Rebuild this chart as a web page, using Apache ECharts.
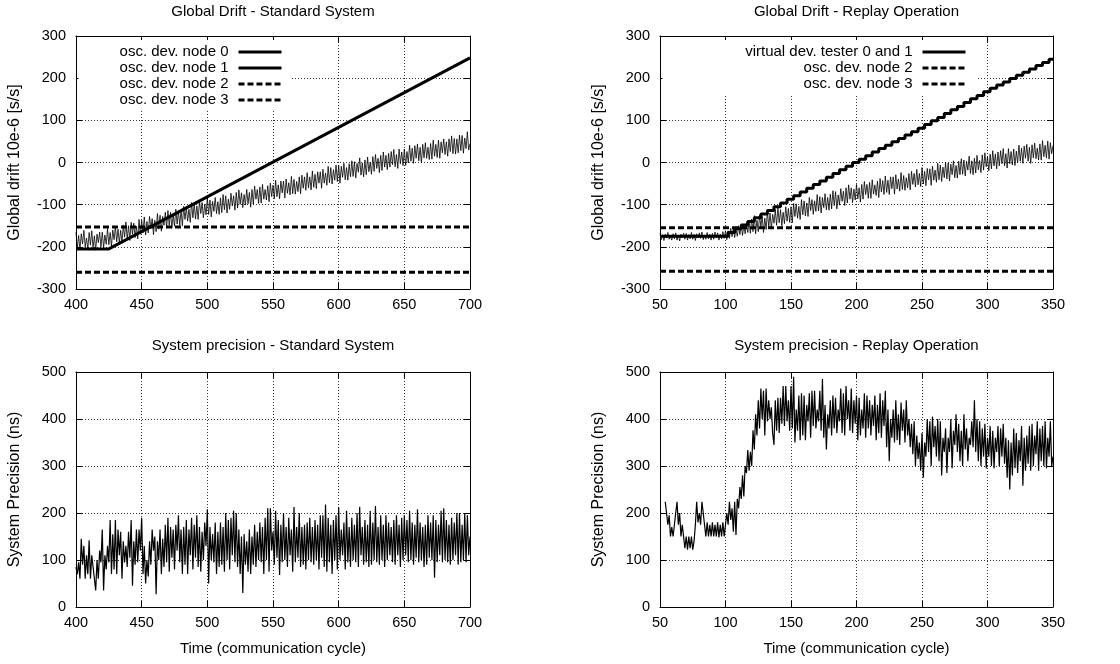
<!DOCTYPE html>
<html><head><meta charset="utf-8">
<script src="https://cdn.jsdelivr.net/npm/echarts@6/dist/echarts.min.js"></script>
<style>html,body{margin:0;padding:0;background:#fff}#c{width:1120px;height:664px}</style>
</head><body><div id="c"></div>
<script>
const FONT = '"Liberation Sans", Arial, Helvetica, sans-serif';

// ---------- Titles / labels ----------
const titles = ['Global Drift - Standard System', 'Global Drift - Replay Operation',
                'System precision - Standard System', 'System precision - Replay Operation'];
const driftYName = 'Global drift 10e-6 [s/s]';
const precYName = 'System Precision (ns)';
const timeXName = 'Time (communication cycle)';

// ---------- Standard system: global drift ----------
const stdNode0X = [400, 425, 700];
const stdNode0Y = [-205, -205, 248];
const stdNode1Start = 400;
const stdNode1 = [
 -165,-203,-173,-207,-169,-193,-161,-200,-179,-205,
 -166,-196,-162,-203,-174,-208,-170,-190,-165,-200,
 -165,-202,-172,-194,-157,-195,-166,-199,-160,-183,
 -152,-188,-158,-190,-161,-192,-148,-177,-141,-182,
 -150,-185,-142,-170,-144,-178,-151,-181,-135,-170,
 -137,-167,-129,-172,-140,-167,-128,-156,-133,-171,
 -137,-164,-121,-158,-125,-163,-128,-149,-118,-155,
 -114,-149,-118,-156,-124,-151,-111,-146,-116,-149,
 -112,-150,-104,-135,-105,-139,-111,-142,-95,-131,
 -98,-134,-103,-135,-90,-121,-95,-131,-99,-124,
 -84,-123,-89,-129,-92,-116,-83,-121,-93,-123,
 -84,-119,-76,-112,-79,-120,-87,-111,-73,-103,
 -79,-113,-71,-108,-65,-99,-72,-107,-76,-101,
 -64,-98,-71,-106,-64,-99,-56,-87,-64,-97,
 -58,-96,-52,-87,-64,-89,-55,-93,-49,-81,
 -54,-86,-42,-81,-53,-86,-44,-72,-44,-84,
 -39,-73,-48,-77,-33,-74,-40,-75,-45,-69,
 -34,-74,-30,-61,-34,-66,-24,-60,-34,-65,
 -20,-59,-28,-62,-22,-49,-22,-61,-16,-49,
 -25,-54,-9,-48,-12,-51,-17,-42,-6,-45,
 -7,-49,-9,-35,-2,-41,-12,-42,-3,-34,
 4,-33,2,-37,-2,-23,11,-30,-1,-34,
 6,-29,13,-22,1,-28,14,-21,19,-14,
 10,-24,17,-19,25,-11,17,-17,22,-11,
 26,-5,31,-10,19,-14,32,-3,25,-7,
 32,-7,26,-1,41,3,34,-2,40,10,
 44,4,36,-1,43,11,47,10,36,7,
 45,8,53,15,43,12,53,10,49,23,
 56,19,49,15,56,26,63,21,57,20,
 56,23,65,28,64,22,58,33,73,30,
 45];
const stdXRange = [400, 700];
const stdNode2Level = -153;
const stdNode3Level = -260;

// ---------- Replay operation: global drift ----------
const repStairX = [50,102,107,112,117,122,127,132,137,142,147,152,157,162,167,172,177,182,187,192,197,
  202,207,212,217,222,227,232,237,242,247,252,257,262,267,272,277,282,287,292,297,
  302,307,312,317,322,327,332,337,342,347,350];
const repStairY = [-175,-166,-157,-148,-140,-131,-122,-114,-105,-96,-87,-79,-70,-61,-52,-44,-35,-26,-17,-9,0,
  8,16,25,33,41,49,57,65,73,81,90,99,107,116,125,133,142,151,159,168,
  176,184,191,199,207,214,222,230,237,245,245];
const repMeasStart = 50;
const repMeas = [
 -168,-183,-171,-185,-170,-179,-166,-182,-174,-184,
 -169,-181,-167,-184,-172,-186,-170,-178,-168,-182,
 -168,-184,-171,-181,-166,-182,-170,-185,-169,-179,
 -167,-180,-165,-183,-172,-182,-166,-181,-170,-184,
 -168,-182,-165,-179,-167,-184,-170,-181,-164,-180,
 -162,-183,-162,-180,-156,-176,-155,-178,-157,-175,
 -150,-171,-147,-173,-149,-169,-142,-166,-142,-168,
 -134,-164,-126,-169,-137,-164,-125,-152,-128,-166,
 -132,-159,-116,-153,-120,-158,-123,-144,-112,-149,
 -108,-143,-112,-150,-118,-145,-105,-139,-109,-142,
 -105,-143,-97,-128,-98,-132,-104,-135,-88,-124,
 -91,-127,-96,-128,-83,-114,-88,-123,-91,-116,
 -76,-115,-81,-120,-83,-107,-74,-112,-83,-113,
 -75,-110,-67,-102,-69,-110,-77,-101,-62,-92,
 -68,-102,-60,-96,-53,-87,-60,-95,-63,-89,
 -52,-86,-60,-94,-52,-87,-45,-76,-52,-85,
 -47,-85,-41,-75,-53,-78,-44,-83,-38,-70,
 -43,-76,-32,-71,-42,-76,-34,-62,-34,-75,
 -29,-63,-39,-68,-24,-64,-31,-66,-36,-60,
 -26,-65,-21,-52,-26,-58,-16,-53,-26,-57,
 -12,-51,-21,-55,-14,-41,-15,-54,-9,-42,
 -18,-47,-2,-41,-6,-45,-11,-36,0,-39,
 -1,-44,-4,-29,4,-36,-7,-37,3,-29,
 9,-28,6,-32,3,-18,15,-26,4,-29,
 10,-25,17,-17,5,-24,18,-18,23,-10,
 14,-20,20,-15,28,-8,20,-15,25,-8,
 28,-3,33,-8,21,-13,33,-3,26,-6,
 32,-7,27,-1,41,3,34,-2,39,10,
 43,3,36,-2,42,11,46,9,34,6,
 44,6,52,14,41,11,51,8,47,21,
 40];
const repXRange = [50, 350];
const repNode2Level = -155;
const repNode3Level = -258;

// ---------- Standard system: precision ----------
const stdPrecStart = 400;
const stdPrec = [
 85,70,95,60,145,90,130,60,110,70,
 142,60,110,85,60,35,100,60,120,95,
 165,35,110,80,130,95,185,70,155,80,
 185,70,165,110,160,60,140,95,130,85,
 160,105,185,45,140,90,165,95,165,120,
 190,70,130,50,100,65,140,90,165,120,
 150,27,140,100,165,70,145,85,175,95,
 190,75,170,105,165,80,175,120,195,95,
 165,70,170,90,185,70,165,110,190,80,
 175,105,195,85,170,75,160,100,180,130,
 208,50,170,100,155,95,180,70,160,85,
 180,90,170,75,200,100,185,80,190,110,
 205,95,200,85,165,70,150,30,155,90,
 140,75,165,70,150,90,175,85,160,100,
 180,95,170,70,190,100,210,75,210,120,
 160,90,205,105,185,68,175,95,200,100,
 170,85,190,110,165,75,213,95,170,105,
 200,85,170,90,175,80,180,100,190,95,
 170,90,185,100,175,80,195,105,195,85,
 218,75,190,95,175,70,185,100,195,80,
 212,100,165,110,180,80,205,95,170,85,
 190,100,175,95,200,85,213,110,170,90,
 185,95,175,85,205,90,180,100,215,95,
 170,90,195,100,175,85,195,100,180,110,
 170,95,185,90,195,110,175,85,190,100,
 195,110,185,95,205,100,180,90,175,105,
 208,95,180,100,170,85,175,90,195,105,
 180,100,195,62,185,95,175,110,205,95,
 210,100,185,95,175,90,190,100,180,110,
 200,90,200,95,175,100,200,95,195,110,
 150];

// ---------- Replay operation: precision ----------
const repPrecStart = 54;
const repPrec = [
 224,200,175,195,150,170,
 150,175,200,224,175,200,150,175,150,125,
 150,122,150,125,150,122,140,175,224,180,
 200,175,224,200,175,150,180,150,175,150,
 180,150,175,150,180,148,175,150,180,150,
 150,200,175,224,185,210,160,224,153,230,
 210,255,230,280,235,300,285,334,290,330,
 300,376,335,410,365,440,380,465,400,460,
 365,465,395,440,400,425,370,345,440,375,
 445,370,445,390,470,385,470,395,440,375,
 470,380,490,350,420,375,450,355,455,365,
 450,355,430,395,455,360,460,385,460,380,
 420,395,460,375,485,360,430,335,410,380,
 440,365,450,380,445,370,420,395,465,370,
 455,365,470,400,440,375,465,370,440,390,
 450,355,445,365,420,380,455,360,450,380,
 440,365,430,385,450,355,430,370,455,360,
 440,385,460,340,420,310,400,360,420,350,
 440,355,410,345,435,375,420,350,440,365,
 400,340,390,325,395,300,365,315,350,290,
 370,275,350,320,400,330,395,300,405,340,
 385,320,400,310,395,280,360,330,380,285,
 360,330,400,295,375,345,410,330,390,310,
 375,300,410,335,380,310,360,345,395,340,
 440,330,400,310,395,300,380,320,390,295,
 360,320,385,300,375,295,360,330,385,300,
 380,320,390,305,360,275,355,250,350,280,
 380,295,370,285,355,310,385,258,360,290,
 365,305,385,290,390,300,365,325,395,290,
 380,310,385,300,395,295,360,320,395,300,
 320];

// ---------- helpers ----------
const seq = (start, vals) => vals.map((v, i) => [start + i, v]);
const zipXY = (xs, ys) => xs.map((x, i) => [x, ys[i]]);
const hline = (range, level) => range.map(x => [x, level]);

const grids = [
  {left: 76, top: 36, width: 394, height: 253},
  {left: 660, top: 36, width: 393, height: 253},
  {left: 76, top: 372, width: 394, height: 235},
  {left: 660, top: 372, width: 393, height: 235}
];
const xr = [[400, 700], [50, 350], [400, 700], [50, 350]];
const yr = [[-300, 300], [-300, 300], [0, 500], [0, 500]];
const ynames = [driftYName, driftYName, precYName, precYName];

const axLine = {show: true, onZero: false, lineStyle: {color: '#000', width: 1}};
const axTick = {show: true, inside: true, length: 6, lineStyle: {color: '#000', width: 1}};
const gridLine = {show: true, lineStyle: {color: '#333', type: [1, 2], width: 1}};

const xAxes = [], yAxes = [];
grids.forEach((g, i) => {
  xAxes.push({
    type: 'value', gridIndex: i, position: 'bottom', min: xr[i][0], max: xr[i][1], interval: 50,
    axisLine: axLine, axisTick: axTick,
    axisLabel: {color: '#000', fontSize: 14.5, fontFamily: FONT, margin: 8},
    splitLine: gridLine,
    name: i >= 2 ? timeXName : '', nameLocation: 'middle', nameGap: 34,
    nameTextStyle: {color: '#000', fontSize: 15, fontFamily: FONT}
  });
  xAxes.push({
    type: 'value', gridIndex: i, position: 'top', min: xr[i][0], max: xr[i][1], interval: 50,
    axisLine: axLine, axisTick: axTick, axisLabel: {show: false}, splitLine: {show: false}
  });
  yAxes.push({
    type: 'value', gridIndex: i, position: 'left', min: yr[i][0], max: yr[i][1], interval: 100,
    axisLine: axLine, axisTick: axTick,
    axisLabel: {color: '#000', fontSize: 14.5, fontFamily: FONT, margin: 10},
    splitLine: gridLine,
    name: ynames[i], nameLocation: 'middle', nameGap: 53,
    nameTextStyle: {color: '#000', fontSize: 16, fontFamily: FONT}
  });
  yAxes.push({
    type: 'value', gridIndex: i, position: 'right', min: yr[i][0], max: yr[i][1], interval: 100,
    axisLine: axLine, axisTick: axTick, axisLabel: {show: false}, splitLine: {show: false}
  });
});

const titleComps = titles.map((t, i) => ({
  text: t, left: grids[i].left + grids[i].width / 2, top: i < 2 ? 4 : 338,
  textAlign: 'center', padding: 0,
  textStyle: {fontSize: 15, fontWeight: 'normal', color: '#000', fontFamily: FONT}
}));

const base = {type: 'line', symbol: 'none', showSymbol: false, animation: false, silent: true, color: '#000'};
const solid3 = {color: '#000', width: 3, type: 'solid'};
const dashed3 = {color: '#000', width: 3, type: [6, 3]};
const noisy = {color: '#000', width: 0.8};

const series = [
  Object.assign({}, base, {name: 'osc. dev. node 1', xAxisIndex: 0, yAxisIndex: 0,
    data: seq(stdNode1Start, stdNode1), lineStyle: noisy, z: 2}),
  Object.assign({}, base, {name: 'osc. dev. node 0', xAxisIndex: 0, yAxisIndex: 0,
    data: zipXY(stdNode0X, stdNode0Y), lineStyle: solid3, z: 3}),
  Object.assign({}, base, {name: 'osc. dev. node 2', xAxisIndex: 0, yAxisIndex: 0,
    data: hline(stdXRange, stdNode2Level), lineStyle: dashed3, z: 3}),
  Object.assign({}, base, {name: 'osc. dev. node 3', xAxisIndex: 0, yAxisIndex: 0,
    data: hline(stdXRange, stdNode3Level), lineStyle: dashed3, z: 3}),
  Object.assign({}, base, {name: 'measured drift', xAxisIndex: 2, yAxisIndex: 2,
    data: seq(repMeasStart, repMeas), lineStyle: noisy, z: 2}),
  Object.assign({}, base, {name: 'virtual dev. tester 0 and 1', xAxisIndex: 2, yAxisIndex: 2,
    data: zipXY(repStairX, repStairY), step: 'end', lineStyle: solid3, z: 3}),
  Object.assign({}, base, {name: 'osc. dev. node 2', xAxisIndex: 2, yAxisIndex: 2,
    data: hline(repXRange, repNode2Level), lineStyle: dashed3, z: 3}),
  Object.assign({}, base, {name: 'osc. dev. node 3', xAxisIndex: 2, yAxisIndex: 2,
    data: hline(repXRange, repNode3Level), lineStyle: dashed3, z: 3}),
  Object.assign({}, base, {name: 'precision std', xAxisIndex: 4, yAxisIndex: 4,
    data: seq(stdPrecStart, stdPrec), lineStyle: {color: '#000', width: 1.2}}),
  Object.assign({}, base, {name: 'precision replay', xAxisIndex: 6, yAxisIndex: 6,
    data: seq(repPrecStart, repPrec), lineStyle: {color: '#000', width: 1.2}})
];

const legendCommon = {
  orient: 'vertical', align: 'right', itemWidth: 43, itemHeight: 10, itemGap: 0,
  backgroundColor: '#fff', selectedMode: false, lineStyle: {width: 3},
  itemStyle: {opacity: 0}, formatter: '{t|{name}}'
};
const richText = w => ({color: '#000', fontSize: 15, fontFamily: FONT, lineHeight: 16,
  rich: {t: {width: w, align: 'right', fontSize: 15, fontFamily: FONT, color: '#000', lineHeight: 16, padding: [0, 5, 0, 0]}}});
const legends = [
  Object.assign({}, legendCommon, {
    data: ['osc. dev. node 0', 'osc. dev. node 1', 'osc. dev. node 2', 'osc. dev. node 3'],
    right: 1120 - 292, top: 40, padding: [4, 9, 2, 38], textStyle: richText(112)
  }),
  Object.assign({}, legendCommon, {
    data: ['virtual dev. tester 0 and 1', 'osc. dev. node 2', 'osc. dev. node 3'],
    right: 1120 - 977, top: 40, padding: [4, 10, 2, 78], textStyle: richText(172)
  })
];

const chart = echarts.init(document.getElementById('c'), null, {renderer: 'canvas'});
chart.setOption({
  backgroundColor: '#fff',
  animation: false,
  title: titleComps,
  grid: grids,
  xAxis: xAxes,
  yAxis: yAxes,
  legend: legends,
  series: series
});
</script>
</body></html>
